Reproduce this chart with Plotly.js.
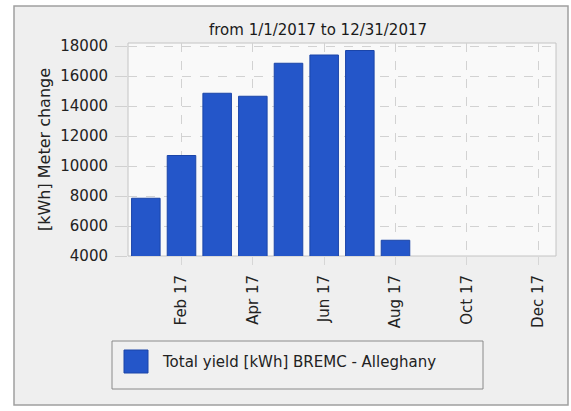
<!DOCTYPE html>
<html>
<head>
<meta charset="utf-8">
<script src="https://cdn.plot.ly/plotly-3.0.1.min.js"></script>
<style>html,body{margin:0;padding:0;background:#fff;}#chart{width:571px;height:411px;}</style>
</head>
<body>
<div id="chart"></div>
<script>
// Data
const months = ["Jan 17","Feb 17","Mar 17","Apr 17","May 17","Jun 17","Jul 17","Aug 17","Sep 17","Oct 17","Nov 17","Dec 17"];
const yieldKWh = [7850, 10700, 14850, 14650, 16850, 17400, 17700, 5050, null, null, null, null];
const tickMonths = ["Feb 17","Apr 17","Jun 17","Aug 17","Oct 17","Dec 17"];
const yTicks = [4000, 6000, 8000, 10000, 12000, 14000, 16000, 18000];
const yTickText = ["4000","6000","8000","10000","12000","14000","16000","18000"];
const seriesName = "Total yield [kWh] BREMC - Alleghany";
const chartTitle = "from 1/1/2017 to 12/31/2017";
const yTitle = "[kWh] Meter change";

const FONT = "DejaVu Sans, Verdana, sans-serif";
const barColor = "#2456c9";

// plot area in px: left 128, right 556, top 43, bottom 256
const L = 128, R = 556, T = 43, B = 256;
const px = x => (x - L) / (R - L);
const py = y => (B - y) / (B - T);

const trace = {
  type: "bar",
  x: months,
  y: yieldKWh,
  name: seriesName,
  marker: {color: barColor, line: {color: "#1b45a8", width: 1}},
  showlegend: false,
  hoverinfo: "x+y"
};

const layout = {
  width: 571, height: 411,
  margin: {l: L, r: 571 - R, t: T, b: 411 - B},
  paper_bgcolor: "#ffffff",
  plot_bgcolor: "rgba(0,0,0,0)",
  font: {family: FONT, color: "#222", size: 15},
  bargap: 0.2,
  title: {
    text: chartTitle,
    font: {family: FONT, size: 15, color: "#1a1a1a"},
    x: 318 / 571, xanchor: "center", xref: "container",
    y: 1 - 30 / 411, yanchor: "middle", yref: "container"
  },
  xaxis: {
    type: "category",
    categoryorder: "array",
    categoryarray: months,
    range: [-0.5, 11.5],
    tickmode: "array",
    tickvals: tickMonths,
    ticktext: tickMonths,
    tickangle: -90,
    ticks: "outside", ticklen: 8, tickcolor: "#d6d6d6",
    ticklabelstandoff: 4,
    showgrid: true, gridcolor: "#d2d2d2", griddash: "dash",
    showline: false, zeroline: false,
    tickfont: {family: FONT, size: 15, color: "#222"},
    fixedrange: true
  },
  yaxis: {
    range: [4000, 18200],
    tickmode: "array",
    tickvals: yTicks,
    ticktext: yTickText,
    ticks: "outside", ticklen: 12, tickcolor: "#d0d0d0",
    ticklabelstandoff: 4,
    showgrid: true, gridcolor: "#d2d2d2", griddash: "dash",
    showline: false, zeroline: false,
    tickfont: {family: FONT, size: 15, color: "#222"},
    title: {text: yTitle, font: {family: FONT, size: 16, color: "#222"}, standoff: 5},
    fixedrange: true
  },
  shapes: [
    // outer frame
    {type: "rect", xref: "paper", yref: "paper", layer: "below",
     x0: px(14), x1: px(568), y0: py(405), y1: py(6),
     fillcolor: "#efefef", line: {color: "#a0a0a0", width: 1.5}},
    // plot area
    {type: "rect", xref: "paper", yref: "paper", layer: "below",
     x0: 0, x1: 1, y0: 0, y1: 1,
     fillcolor: "#f9f9f9", line: {color: "#c4c4c4", width: 1}},
    // legend box
    {type: "rect", xref: "paper", yref: "paper", layer: "below",
     x0: px(112), x1: px(483), y0: py(389), y1: py(341),
     fillcolor: "#f0f0f0", line: {color: "#8a8a8a", width: 1}},
    // legend swatch
    {type: "rect", xref: "paper", yref: "paper", layer: "above",
     x0: px(124), x1: px(148), y0: py(373), y1: py(350),
     fillcolor: barColor, line: {color: "#1b45a8", width: 1}}
  ],
  annotations: [
    {xref: "paper", yref: "paper", x: px(160), y: py(362),
     xanchor: "left", yanchor: "middle", showarrow: false,
     text: seriesName, font: {family: FONT, size: 15, color: "#222"}}
  ]
};

Plotly.newPlot("chart", [trace], layout, {displayModeBar: false, staticPlot: true});
</script>
</body>
</html>
